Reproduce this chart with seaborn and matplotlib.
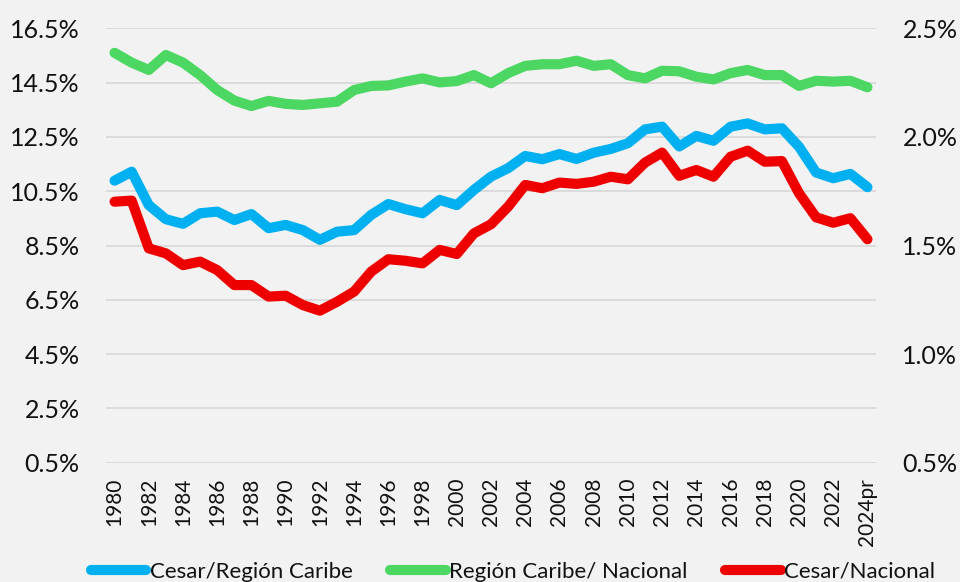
import matplotlib
matplotlib.use("Agg")
import matplotlib.pyplot as plt
import seaborn as sns
import pandas as pd
import numpy as np
from matplotlib.ticker import FuncFormatter
from matplotlib.lines import Line2D

years = list(range(1980, 2025))
tick_years = list(range(1980, 2025, 2))
tick_labels = [str(y) for y in range(1980, 2023, 2)] + ["2024pr"]

cesar_caribe = [10.89, 11.22, 9.99, 9.47, 9.30, 9.69, 9.75, 9.44, 9.66, 9.14,
                9.26, 9.07, 8.71, 9.01, 9.07, 9.63, 10.03, 9.84, 9.69, 10.18,
                9.99, 10.55, 11.04, 11.35, 11.80, 11.68, 11.87, 11.69, 11.92, 12.06,
                12.27, 12.78, 12.88, 12.15, 12.54, 12.36, 12.88, 13.00, 12.78, 12.82,
                12.14, 11.19, 10.98, 11.14, 10.65]
caribe_nacional = [15.60, 15.24, 14.97, 15.52, 15.24, 14.78, 14.23, 13.84, 13.64, 13.83,
                   13.72, 13.68, 13.74, 13.80, 14.23, 14.38, 14.40, 14.54, 14.66, 14.51,
                   14.56, 14.78, 14.48, 14.85, 15.12, 15.18, 15.18, 15.31, 15.12, 15.18,
                   14.78, 14.66, 14.94, 14.92, 14.72, 14.62, 14.85, 14.97, 14.78, 14.78,
                   14.38, 14.57, 14.54, 14.57, 14.33]
cesar_nacional = [1.702, 1.707, 1.487, 1.464, 1.410, 1.426, 1.387, 1.318, 1.318, 1.265,
                  1.269, 1.226, 1.200, 1.241, 1.288, 1.380, 1.437, 1.430, 1.418, 1.480,
                  1.461, 1.556, 1.598, 1.679, 1.779, 1.764, 1.790, 1.784, 1.794, 1.817,
                  1.805, 1.882, 1.928, 1.821, 1.848, 1.817, 1.909, 1.937, 1.886, 1.889,
                  1.741, 1.630, 1.605, 1.626, 1.529]

names = ["Cesar/Región Caribe", "Región Caribe/ Nacional", "Cesar/Nacional"]
colors = ["#00B0F0", "#4CD662", "#EE0000"]

df = pd.DataFrame({"year": years, names[0]: cesar_caribe,
                   names[1]: caribe_nacional, names[2]: cesar_nacional})

sns.set_theme(style="white")
plt.rcParams['font.family'] = ['Lato', 'DejaVu Sans']
bg = "#F2F2F2"

fig = plt.figure(figsize=(9.6, 5.82), dpi=100, facecolor=bg)
ax = fig.add_axes([106/960, 1-462.7/582, (876-106)/960, (462.7-28.4)/582])
ax.set_facecolor(bg)
ax2 = ax.twinx()

lw = 7.3
sns.lineplot(data=df, x="year", y=names[0], ax=ax, color=colors[0], linewidth=lw,
             solid_capstyle="round", solid_joinstyle="round", zorder=3)
sns.lineplot(data=df, x="year", y=names[1], ax=ax, color=colors[1], linewidth=lw,
             solid_capstyle="round", solid_joinstyle="round", zorder=3)
sns.lineplot(data=df, x="year", y=names[2], ax=ax2, color=colors[2], linewidth=lw,
             solid_capstyle="round", solid_joinstyle="round", zorder=3)

ax.set_xlim(1979.5, 2024.5)
ax.set_ylim(0.5, 16.5)
ax2.set_ylim(0.5, 2.5)
ax.set_yticks(np.arange(0.5, 16.6, 2.0))
ax2.set_yticks(np.arange(0.5, 2.51, 0.5))
ax.yaxis.set_major_formatter(FuncFormatter(lambda v, p: f"{v:.1f}%"))
ax2.yaxis.set_major_formatter(FuncFormatter(lambda v, p: f"{v:.1f}%"))
ax.set_xticks(tick_years)
ax.set_xticklabels(tick_labels, rotation=90, va="top", ha="center")

for a in (ax, ax2):
    for s in a.spines.values():
        s.set_visible(False)
    a.set_xlabel("")
    a.set_ylabel("")
ax.grid(axis="y", color="#D9D9D9", linewidth=1.3, zorder=0)
ax.grid(axis="x", visible=False)
ax2.grid(False)
ax.set_axisbelow(True)

ax.tick_params(axis="y", length=0, pad=19, labelsize=18, labelcolor="#111111")
ax2.tick_params(axis="y", length=0, pad=19, labelsize=18, labelcolor="#111111")
ax.tick_params(axis="x", length=0, pad=11, labelsize=15, labelcolor="#111111")

handles = [Line2D([0], [0], color=c, linewidth=lw, solid_capstyle="round") for c in colors]
fig.legend(handles, names, loc="center", bbox_to_anchor=(513/960, 1-572/582),
           ncol=3, frameon=False, fontsize=16, handlelength=2.5, handletextpad=0.15,
           columnspacing=1.7, labelcolor="#111111")

fig.savefig("out.png", dpi=100, facecolor=bg)
